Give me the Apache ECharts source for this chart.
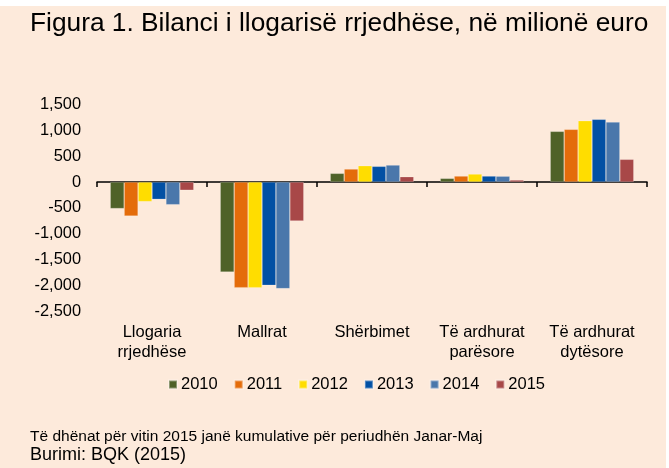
<!DOCTYPE html>
<html><head><meta charset="utf-8">
<script src="https://cdn.jsdelivr.net/npm/echarts@6/dist/echarts.min.js"></script>
<style>html,body{margin:0;padding:0;background:#fff;}#c{width:669px;height:468px;}</style>
</head><body><div id="c"></div>
<script>
var categories = ['Llogaria\nrrjedhëse', 'Mallrat', 'Shërbimet', 'Të ardhurat\nparësore', 'Të ardhurat\ndytësore'];
var years = ['2010', '2011', '2012', '2013', '2014', '2015'];
var v2010 = [-515, -1745, 168, 71, 982];
var v2011 = [-660, -2048, 252, 116, 1021];
var v2012 = [-380, -2048, 316, 155, 1188];
var v2013 = [-336, -2002, 304, 116, 1215];
var v2014 = [-440, -2067, 329, 113, 1163];
var v2015 = [-160, -756, 103, 39, 440];
var yTicks = { min: -2500, max: 1500, interval: 500 };
var colors = ['#4F6228', '#E46C0A', '#FFDD00', '#0250A4', '#4A77AB', '#A84848'];

var seriesData = [v2010, v2011, v2012, v2013, v2014, v2015];
var font = '"Liberation Sans", Arial, sans-serif';
var chart = echarts.init(document.getElementById('c'));
chart.setOption({
  backgroundColor: '#ffffff',
  animation: false,
  color: colors,
  graphic: [{ type: 'rect', z: -10, shape: { x: 0, y: 6, width: 666, height: 462 }, style: { fill: '#FDEADB' }, silent: true }],
  title: [
    { text: 'Figura 1. Bilanci i llogarisë rrjedhëse, në milionë euro', left: 25, top: 6,
      textStyle: { fontFamily: font, fontSize: 26.3, fontWeight: 'normal', color: '#000' } },
    { text: 'Të dhënat për vitin 2015 janë kumulative për periudhën Janar-Maj', left: 25, top: 424,
      textStyle: { fontFamily: font, fontSize: 15.5, fontWeight: 'normal', color: '#000' } },
    { text: 'Burimi: BQK (2015)', left: 25, top: 441,
      textStyle: { fontFamily: font, fontSize: 18, fontWeight: 'normal', color: '#000' } }
  ],
  legend: {
    left: 163, top: 371, itemWidth: 8, itemHeight: 8, itemGap: 16,
    icon: 'rect',
    textStyle: { fontFamily: font, fontSize: 16.5, color: '#000', padding: [0, 0, 0, -1] },
    data: years
  },
  grid: { left: 97, right: 22, top: 104.6, bottom: 157, containLabel: false },
  xAxis: [
    { type: 'category', data: categories, position: 'bottom',
      axisLine: { show: false, onZero: false }, axisTick: { show: false },
      axisLabel: { fontFamily: font, fontSize: 16.5, color: '#000', margin: 11, lineHeight: 20, interval: 0 } },
    { type: 'category', data: categories, position: 'bottom',
      axisLine: { show: true, onZero: true, lineStyle: { color: '#000', width: 1.5 } },
      axisTick: { show: true, length: 5, lineStyle: { color: '#000', width: 1.5 } },
      axisLabel: { show: false } }
  ],
  yAxis: {
    type: 'value', min: yTicks.min, max: yTicks.max, interval: yTicks.interval,
    axisLine: { show: false }, axisTick: { show: false }, splitLine: { show: false },
    axisLabel: { fontFamily: font, fontSize: 16.4, color: '#000', margin: 16,
      formatter: function (v) { return v.toLocaleString('en-US'); } }
  },
  series: seriesData.map(function (d, i) {
    return { name: years[i], type: 'bar', data: d, xAxisIndex: 0,
      barGap: '0%', barCategoryGap: '24%',
      itemStyle: { borderColor: 'rgba(255,255,255,0.35)', borderWidth: 0.6 } };
  })
});
</script></body></html>
